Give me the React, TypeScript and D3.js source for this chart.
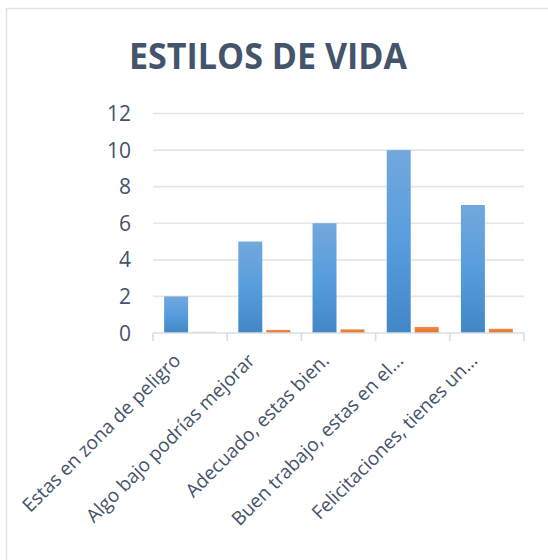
import React from "react";
import * as d3 from "d3";

const categories = [
  "Estas en zona de peligro",
  "Algo bajo podrías mejorar",
  "Adecuado, estas bien.",
  "Buen trabajo, estas en el...",
  "Felicitaciones, tienes un...",
];
const seriesCount = [2, 5, 6, 10, 7];
const seriesShare = [0.07, 0.17, 0.2, 0.33, 0.23];
const yTicks = [0, 2, 4, 6, 8, 10, 12];
const title = "ESTILOS DE VIDA";

const W = 548;
const H = 560;
const left = 153;
const right = 524;
const top = 113.5;
const bottom = 333;

export default function App() {
  const x = d3.scaleBand<string>().domain(categories).range([left, right]).paddingInner(0).paddingOuter(0);
  const y = d3.scaleLinear().domain([0, 12]).range([bottom, top]);
  const bw = x.bandwidth();
  const pad = bw * 0.15;
  const gap = 4;
  const barW = (bw - 2 * pad - gap) / 2;
  const textColor = "#44546a";
  const font = "'Open Sans', 'Noto Sans', sans-serif";

  return (
    <svg width={W} height={H} style={{ position: "absolute", left: 0, top: 0, background: "#fff" }}>
      <defs>
        <linearGradient id="gBlue" x1="0" y1="0" x2="0" y2="1">
          <stop offset="0" stopColor="#72a8dd" />
          <stop offset="0.5" stopColor="#579ddd" />
          <stop offset="1" stopColor="#4286c6" />
        </linearGradient>
        <linearGradient id="gOrange" x1="0" y1="0" x2="0" y2="1">
          <stop offset="0" stopColor="#f48b45" />
          <stop offset="1" stopColor="#e46f27" />
        </linearGradient>
      </defs>
      <rect x={6.5} y={8.5} width={W + 10} height={H + 10} fill="#fff" stroke="#dfe3e8" strokeWidth={1.5} />
      <text
        x={268}
        y={69}
        textAnchor="middle"
        fontFamily={font}
        fontWeight={700}
        fontSize={35}
        fill={textColor}
        textLength={278}
        lengthAdjust="spacingAndGlyphs"
      >
        {title}
      </text>
      {yTicks.map((t) => (
        <g key={t}>
          {t > 0 && (
            <line x1={left} x2={right} y1={y(t)} y2={y(t)} stroke="#e3e6ea" strokeWidth={1.6} />
          )}
          <text
            x={131}
            y={y(t)}
            dy="0.36em"
            textAnchor="end"
            fontFamily={font}
            fontSize={21}
            fill={textColor}
          >
            {t}
          </text>
        </g>
      ))}
      {categories.map((c, i) => {
        const x0 = x(c)!;
        return (
          <g key={c}>
            <rect x={x0 + pad} y={y(seriesCount[i])} width={barW} height={bottom - y(seriesCount[i])} fill="url(#gBlue)" />
            <rect
              x={x0 + pad + barW + gap}
              y={y(seriesShare[i])}
              width={barW}
              height={bottom - y(seriesShare[i])}
              fill="url(#gOrange)"
              opacity={i === 0 ? 0.35 : 1}
            />
          </g>
        );
      })}
      <line x1={left} x2={right} y1={bottom} y2={bottom} stroke="#d9dde2" strokeWidth={1.6} />
      {[...categories.map((c) => x(c)!), right].map((tx, i) => (
        <line key={i} x1={tx} x2={tx} y1={bottom} y2={bottom + 8} stroke="#d9dde2" strokeWidth={1.6} />
      ))}
      {categories.map((c) => {
        const cx = x(c)! + bw / 2;
        return (
          <text
            key={c}
            transform={`translate(${cx - 13},${bottom + 24}) rotate(-45)`}
            textAnchor="end"
            dy="0.35em"
            fontFamily={font}
            fontSize={19}
            fill={textColor}
          >
            {c}
          </text>
        );
      })}
    </svg>
  );
}
